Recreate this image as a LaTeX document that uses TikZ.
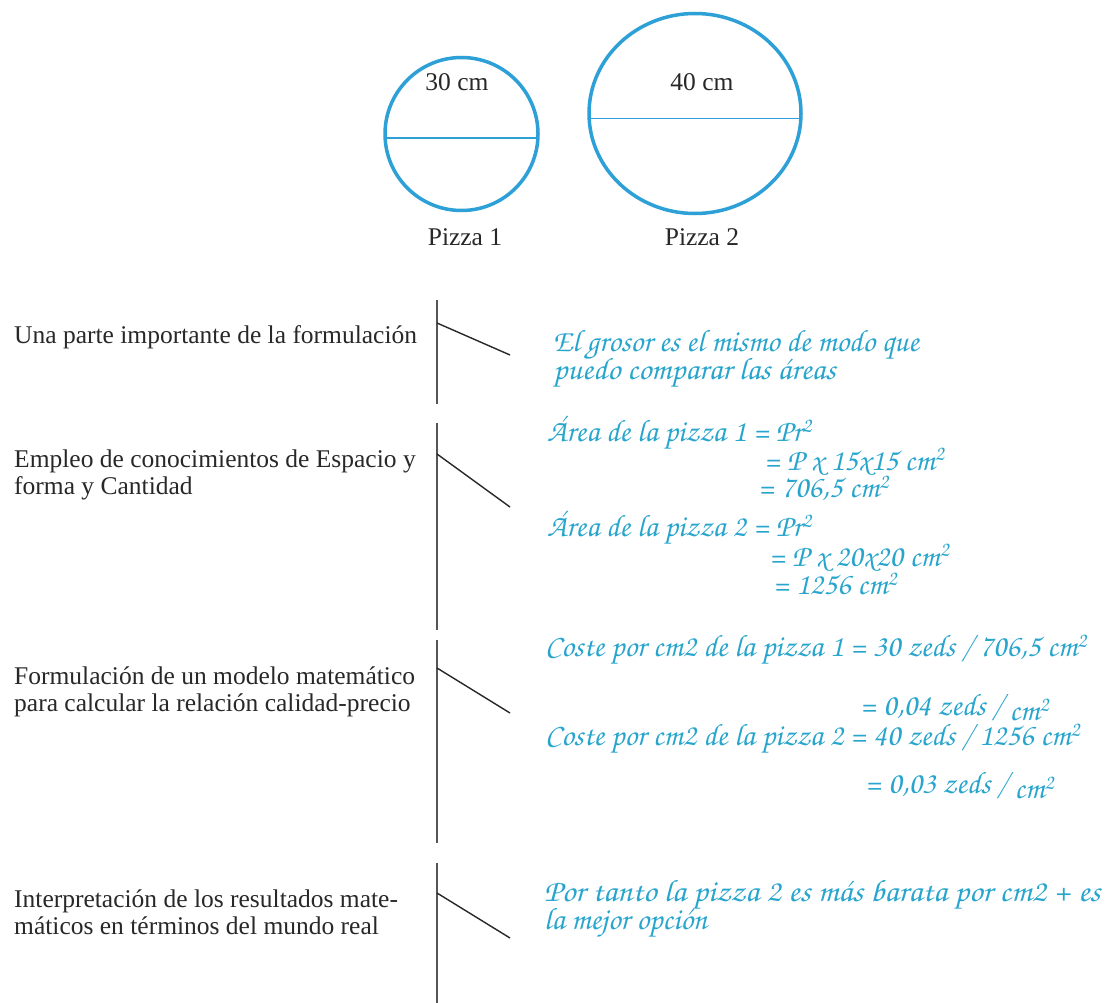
\documentclass[tikz,border=0pt]{standalone}
\usepackage[T1]{fontenc}
\usepackage{fontspec}
\setmainfont{Liberation Serif}
\newfontfamily\serifface{Liberation Serif}
\usetikzlibrary{shapes.geometric,calc}
\newcommand{\handfont}{\fontencoding{T1}\fontfamily{pzc}\fontseries{mb}\fontshape{it}\selectfont}
\newcommand{\sqr}{\textsuperscript{2}}
\definecolor{pizzablue}{RGB}{45,160,215}
\definecolor{handblue}{RGB}{40,165,205}
\definecolor{txtgray}{RGB}{40,40,40}
\definecolor{rulegray}{RGB}{85,85,85}
\begin{document}
\begin{tikzpicture}[x=1pt,y=-1pt,
  pizza/.style={draw=pizzablue, line width=3.5pt, inner sep=0pt, outer sep=0pt},
  diam/.style={draw=pizzablue, line width=1.5pt},
  lbl/.style={font=\serifface\fontsize{25.5}{27}\selectfont, text=txtgray, inner sep=0pt},
  crit/.style={lbl, anchor=west, align=left},
  bar/.style={draw=rulegray, line width=2.2pt},
  tickline/.style={draw=txtgray, line width=1.4pt},
  hw/.style={font=\handfont\fontsize{31}{33}\selectfont, text=handblue, anchor=west, inner sep=0pt}]
\fill[white] (0,0) rectangle (1110,1003);
\useasboundingbox (0,0) rectangle (1110,1003);

% pizzas
\node[pizza, circle, minimum size=153pt] (p1) at (461.5,134) {};
\node[pizza, ellipse, minimum width=212pt, minimum height=200pt] (p2) at (695,113.5) {};
\draw[diam] ($(p1.west)+(0,4)$) -- ($(p1.east)+(0,4)$);
\draw[diam] ($(p2.west)+(0,5)$) -- ($(p2.east)+(0,5)$);
\node[lbl] (d1) at (457,82) {30 cm};
\node[lbl] (d2) at (702,82) {40 cm};
\node[lbl] (n1) at (465,237) {Pizza 1};
\node[lbl] (n2) at (702,237) {Pizza 2};

% criteria
\node[crit] (c1) at (14,337) {Una parte importante de la formulación};
\node[crit] (c2) at (14,475) {Empleo de conocimientos de Espacio y\\forma y Cantidad};
\node[crit] (c3) at (14,692) {Formulación de un modelo matemático\\para calcular la relación calidad-precio};
\node[crit] (c4) at (14,912) {Interpretación de los resultados mate-\\máticos en términos del mundo real};

% bars and ticks
\coordinate (b1t) at (437,300); \coordinate (b1b) at (437,404);
\coordinate (b2t) at (437,423); \coordinate (b2b) at (437,630);
\coordinate (b3t) at (437,640); \coordinate (b3b) at (437,843);
\coordinate (b4t) at (437,863); \coordinate (b4b) at (437,1003);
\coordinate (k1s) at (437,323); \coordinate (k1e) at (510,355);
\coordinate (k2s) at (437,454); \coordinate (k2e) at (510,507);
\coordinate (k3s) at (437,668); \coordinate (k3e) at (510,713);
\coordinate (k4s) at (437,893); \coordinate (k4e) at (510,938);
\draw[bar] (b1t) -- (b1b);
\draw[bar] (b2t) -- (b2b);
\draw[bar] (b3t) -- (b3b);
\draw[bar] (b4t) -- (b4b);
\draw[tickline] (k1s) -- (k1e);
\draw[tickline] (k2s) -- (k2e);
\draw[tickline] (k3s) -- (k3e);
\draw[tickline] (k4s) -- (k4e);

% handwritten answers
\node[hw] (h1) at (553,345) {El grosor es el mismo de modo que};
\node[hw] (h2) at (553,373) {\scalebox{1.04}[1]{puedo comparar las \'areas}};
\node[hw] (h3) at (547,433) {\'Area de la pizza 1 = Pr\sqr};
\node[hw] (h4) at (764,462) {= P x 15x15 cm\sqr};
\node[hw] (h5) at (758,488) {= 706,5 cm\sqr};
\node[hw] (h6) at (547,528) {\'Area de la pizza 2 = Pr\sqr};
\node[hw] (h7) at (769,558) {= P x 20x20 cm\sqr};
\node[hw] (h8) at (773,584) {= 1256 cm\sqr};
\node[hw] (h9) at (545,650) {Coste por cm2 de la pizza 1 = 30 zeds / 706,5 cm\sqr};
\node[hw] (h10) at (860,707) {= 0,04 zeds / \raisebox{-0.4ex}{cm\sqr}};
\node[hw] (h11) at (545,739) {Coste por cm2 de la pizza 2 = 40 zeds / 1256 cm\sqr};
\node[hw] (h12) at (865,785) {= 0,03 zeds / \raisebox{-0.4ex}{cm\sqr}};
\node[hw] (h13) at (544,895) {\scalebox{1.075}[1]{Por tanto la pizza 2 es m\'as barata por cm2 + es}};
\node[hw] (h14) at (544,923) {la mejor opci\'on};
\end{tikzpicture}
\end{document}
